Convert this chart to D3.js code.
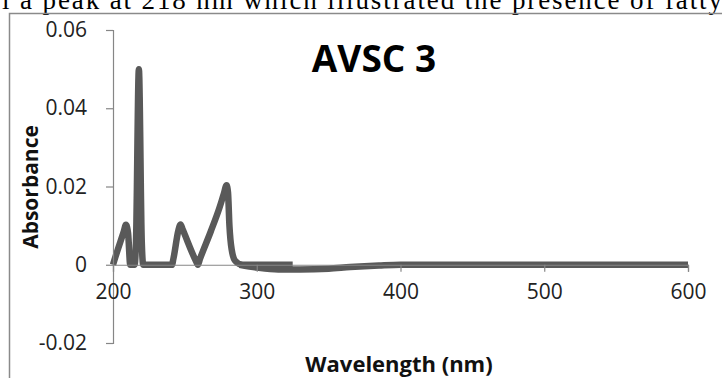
<!doctype html>
<html>
<head>
<meta charset="utf-8">
<script src="https://d3js.org/d3.v7.min.js"></script>
<style>
  body { margin: 0; background: #fff; }
  text { font-family: "Open Sans", sans-serif; }
</style>
</head>
<body>
<script>
// peak series (nm, absorbance)
var peakWave = [200, 201, 207.5, 209, 210.5, 212, 215, 216, 218, 220, 221, 241, 242,
                245.5, 247, 248.5, 258, 259, 260.5, 268, 274, 277, 279, 280, 281, 282.5, 285, 290, 325];
var peakAbs  = [0, 0.0012, 0.0085, 0.0102, 0.0080, 0, 0, 0.006, 0.050, 0.006, 0, 0, 0.0015,
                0.0088, 0.0103, 0.0090, 0.0007, 0, 0.0015, 0.0085, 0.0145, 0.0180, 0.0203, 0.0185, 0.0100, 0.0040, 0.0010, 0, 0];

// baseline series with the shallow dip
var baseWave = [288, 300, 315, 330, 350, 365, 385, 400, 600];
var baseAbs  = [0, -0.0007, -0.0012, -0.0012, -0.0010, -0.0006, -0.0002, 0, 0];

var xTicks = [200, 300, 400, 500, 600];
var yTicks = [-0.02, 0, 0.02, 0.04, 0.06];
var yTickLabels = ["-0.02", "0", "0.02", "0.04", "0.06"];

var W = 722, H = 378;

var svg = d3.select("body").append("svg")
    .attr("width", W)
    .attr("height", H);

// cut-off line of body text above the chart
svg.append("text")
    .attr("x", 2)
    .attr("y", 9)
    .attr("textLength", 720)
    .style("font-family", "'Liberation Serif', 'Times New Roman', serif")
    .style("font-size", "27px")
    .attr("fill", "#000")
    .text("l a peak at 218 nm which illustrated the presence of fatty");

// chart frame
svg.append("path")
    .attr("d", "M9.5," + H + "V13.5H" + W)
    .attr("fill", "none")
    .attr("stroke", "#8a8a8a")
    .attr("stroke-width", 1.5);

var x = d3.scaleLinear().domain([200, 600]).range([113, 688]);
var y = d3.scaleLinear().domain([-0.02, 0.06]).range([343, 30]);

var line = d3.line()
    .x(function(d) { return x(d[0]); })
    .y(function(d) { return y(d[1]); })
    .curve(d3.curveMonotoneX);

var peakData = peakWave.map(function(w, i) { return [w, peakAbs[i]]; });
var baseData = baseWave.map(function(w, i) { return [w, baseAbs[i]]; });

[baseData, peakData].forEach(function(d) {
    svg.append("path")
        .datum(d)
        .attr("d", line)
        .attr("fill", "none")
        .attr("stroke", "#595959")
        .attr("stroke-width", 6.5)
        .attr("stroke-linejoin", "round")
        .attr("stroke-linecap", "butt");
});

// y axis
var yAxis = svg.append("g")
    .attr("transform", "translate(" + x(200) + ",0)")
    .call(d3.axisLeft(y)
        .tickValues(yTicks)
        .tickSize(7)
        .tickPadding(19)
        .tickFormat(function(d, i) { return yTickLabels[i]; }));

// x axis at zero
var xAxis = svg.append("g")
    .attr("transform", "translate(0," + y(0) + ")")
    .call(d3.axisBottom(x)
        .tickValues(xTicks)
        .tickSize(7)
        .tickPadding(12)
        .tickFormat(d3.format("d")));

[xAxis, yAxis].forEach(function(g) {
    g.select(".domain").attr("stroke", "#868686").attr("stroke-width", 1.2);
    g.selectAll(".tick line").attr("stroke", "#868686").attr("stroke-width", 1.2);
    g.selectAll(".tick text")
        .attr("fill", "#222")
        .style("font-family", "'Open Sans', sans-serif")
        .style("font-size", "21px");
});

// title
svg.append("text")
    .attr("x", 374)
    .attr("y", 72)
    .attr("text-anchor", "middle")
    .style("font-size", "37px")
    .style("font-weight", "bold")
    .attr("fill", "#000")
    .text("AVSC 3");

// axis titles
svg.append("text")
    .attr("transform", "translate(38,187) rotate(-90)")
    .attr("text-anchor", "middle")
    .style("font-size", "21px")
    .style("font-weight", "bold")
    .attr("fill", "#111")
    .text("Absorbance");

svg.append("text")
    .attr("x", 399)
    .attr("y", 372)
    .attr("text-anchor", "middle")
    .style("font-size", "22px")
    .style("font-weight", "bold")
    .attr("fill", "#111")
    .text("Wavelength (nm)");
</script>
</body>
</html>
